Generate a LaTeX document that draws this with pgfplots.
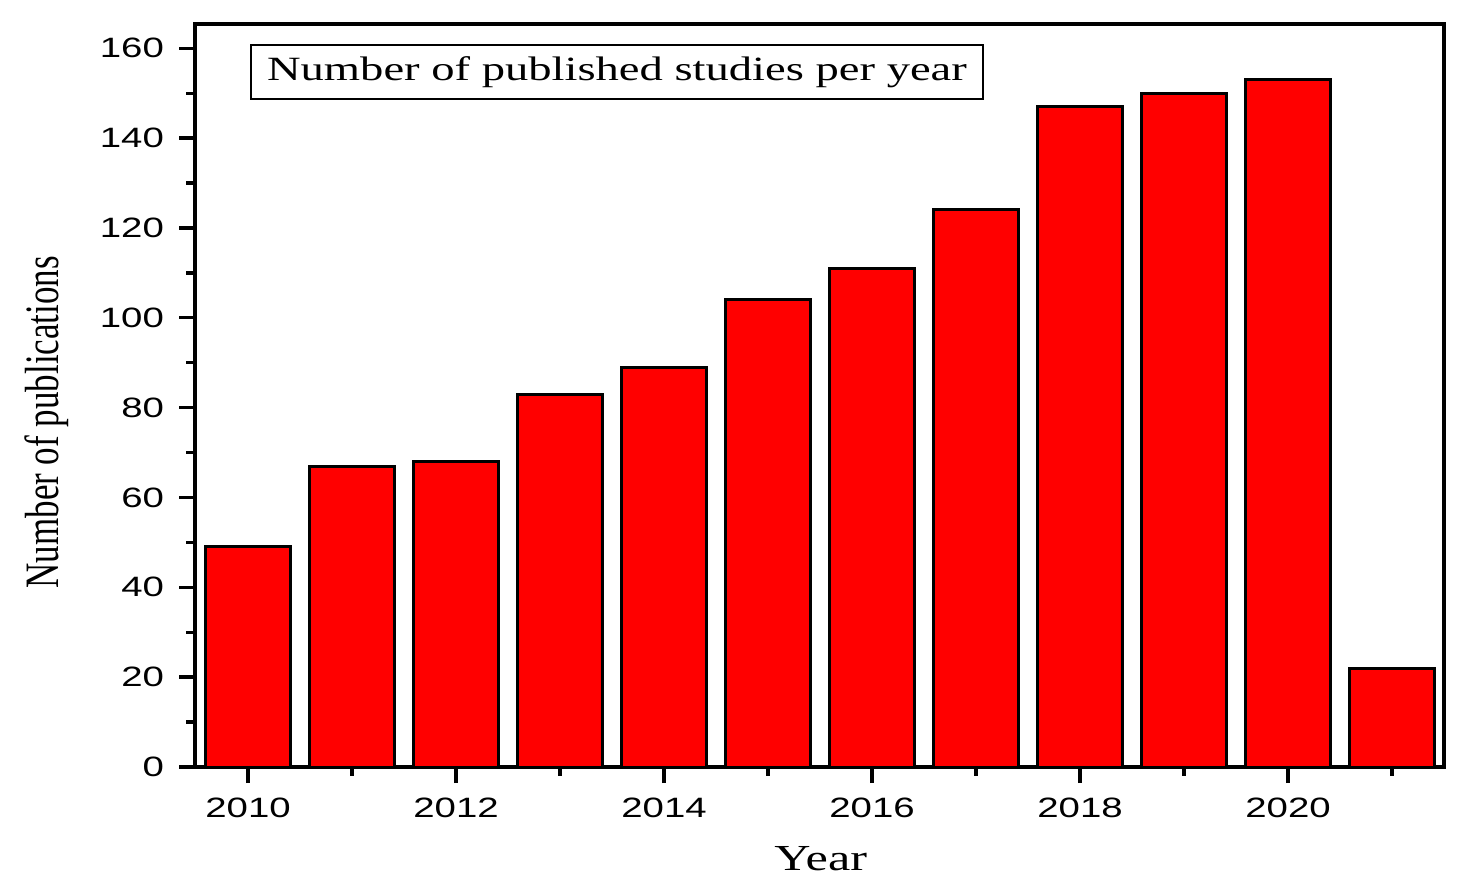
\documentclass[border=0pt]{standalone}
\usepackage{fontspec}
\usepackage{pgfplots}
\pgfplotsset{compat=1.18}
\setmainfont{Liberation Serif}
\newfontfamily\tickfont[FakeStretch=1.37]{Liberation Sans}
\newfontfamily\titlefont[FakeStretch=1.37]{Liberation Serif}
\begin{document}
\begin{tikzpicture}
\begin{axis}[
  scale only axis,
  width=374.7pt, height=222.9pt,
  xmin=2009.49, xmax=2021.5,
  ymin=0, ymax=165.4,
  ybar, bar width=0.81,
  xtick={2010,2012,2014,2016,2018,2020},
  minor xtick={2011,2013,2015,2017,2019,2021},
  ytick={0,20,40,60,80,100,120,140,160},
  minor ytick={10,30,50,70,90,110,130,150},
  tick pos=left, tick align=outside,
  major tick length=4.8pt, minor tick length=2.6pt,
  tick style={line width=1pt, black},
  axis line style={line width=1.1pt},
  /pgf/number format/assume math mode=true,
  /pgf/number format/1000 sep={},
  ticklabel style={font=\tickfont\fontsize{8.4}{10}\selectfont},
  xticklabel style={yshift=-1pt},
  yticklabel style={xshift=-1pt},
  xlabel={\titlefont\fontsize{11}{13}\selectfont Year},
  xlabel style={at={(axis description cs:0.501,0)}, anchor=center, yshift=-27.6pt},
  ylabel={\scalebox{1}[1.37]{\fontsize{10.5}{12}\selectfont Number of publications}},
  ylabel style={at={(axis description cs:-0.119,0.464)}, anchor=center, rotate=0},
]
\addplot[fill=red, draw=black, line width=0.9pt] coordinates {
(2010,49) (2011,67) (2012,68) (2013,83) (2014,89) (2015,104)
(2016,111) (2017,124) (2018,147) (2019,150) (2020,153) (2021,22)};
\node[draw=black, line width=0.6pt, anchor=north west, minimum width=219.6pt, minimum height=16.2pt, inner sep=0pt,
  font=\titlefont\fontsize{10.2}{12}\selectfont] at (axis description cs:0.044,0.973) {Number of published studies per year};
\coordinate (bl) at (rel axis cs:0,0);
\coordinate (tr) at (rel axis cs:1,1);
\end{axis}
\path ([shift={(-58.5pt,-37.5pt)}]bl) rectangle ([shift={(5.4pt,7.2pt)}]tr);
\end{tikzpicture}
\end{document}
